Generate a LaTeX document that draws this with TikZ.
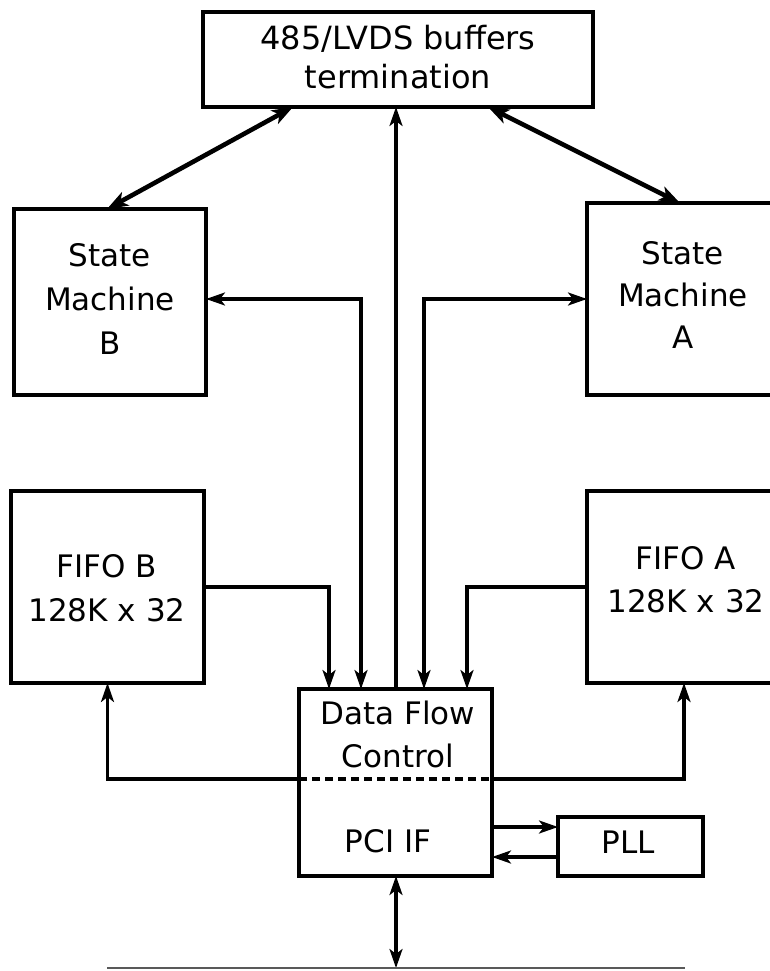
\documentclass[tikz,border=0pt]{standalone}
\usepackage{fontspec}
\setmainfont{DejaVu Sans}
\usetikzlibrary{arrows.meta}
\tikzset{
  tipa/.tip={Stealth[length=19pt,width=13pt,inset=5pt]},
  tipb/.tip={Stealth[length=21pt,width=15pt,inset=5.5pt]},
}
\begin{document}
\begin{tikzpicture}[x=1pt,y=-1pt,
  box/.style={draw, line width=3.6pt, rectangle, inner sep=0pt, outer sep=0pt},
  lbl/.style={align=center, inner sep=0pt, font=\fontsize{31}{44}\selectfont},
  one/.style={line width=3.2pt, -{tipa}},
  two/.style={line width=3.2pt, {tipa}-{tipa}},
  twothick/.style={line width=4.6pt, {tipb}-{tipb}},
]
\useasboundingbox (0,0) rectangle (770,971);
\clip (0,0) rectangle (770,971);

% boxes
\node[box, minimum width=390pt, minimum height=95pt] (top) at (398,59.5) {};
\node[box, minimum width=192pt, minimum height=186pt] (smb) at (110,302) {};
\node[box, minimum width=192pt, minimum height=192pt] (sma) at (683,299) {};
\node[box, minimum width=193pt, minimum height=192pt] (fifob) at (107.5,587) {};
\node[box, minimum width=192pt, minimum height=192pt] (fifoa) at (683,587) {};
\node[box, minimum width=193pt, minimum height=187pt] (dfc) at (395.5,782.5) {};
\node[box, minimum width=145pt, minimum height=59pt] (pll) at (630.5,846.5) {};

% texts
\node[lbl, font=\fontsize{32}{39}\selectfont] (ttop) at (398,57.5) {485/LVDS buffers\\termination};
\node[lbl] (tsmb) at (110,299) {State\\Machine\\B};
\node[lbl, font=\fontsize{31}{42}\selectfont] (tsma) at (683,295) {State\\Machine\\A};
\node[lbl] (tfifob) at (107,588.5) {FIFO B\\128K x 32};
\node[lbl, font=\fontsize{31}{43}\selectfont] (tfifoa) at (686,580) {FIFO A\\128K x 32};
\node[lbl, font=\fontsize{31}{43}\selectfont] (tdfc) at (398,734) {Data Flow\\Control};
\node[lbl] (tpci) at (388,841) {PCI IF};
\node[lbl] (tpll) at (628,842) {PLL};

% helper coordinates
\coordinate (busL) at (107,968);
\coordinate (busR) at (685,968);
\coordinate (p1) at ([yshift=19.5pt]pll.west);
\coordinate (p2) at ([yshift=-10.5pt]pll.west);
\coordinate (dl) at ([yshift=3.5pt]dfc.west);
\coordinate (dr) at ([yshift=3.5pt]dfc.east);

% diagonal links
\draw[twothick] ([xshift=-105pt]top.south) -- ([xshift=-3pt]smb.north);
\draw[twothick] ([xshift=90pt]top.south) -- ([xshift=-3pt]sma.north);

% vertical central
\draw[one] ([xshift=0.5pt]dfc.north) -- ([xshift=0.5pt]dfc.north |- top.south);

% state machines
\draw[two] ([xshift=62pt]dfc.north west) |- ([yshift=3pt]smb.east);
\draw[two] ([xshift=125pt]dfc.north west) |- (sma.west);

% FIFOs into DFC
\draw[one] (fifob.east) -| ([xshift=30pt]dfc.north west);
\draw[one] (fifoa.west) -| ([xshift=168pt]dfc.north west);

% DFC back to FIFOs
\draw[one] (dl) -| (fifob.south);
\draw[one] (dr) -| ([xshift=1pt]fifoa.south);
\draw[line width=3.2pt, dash pattern=on 8pt off 5pt] (dl) -- (dr);

% PLL
\draw[one] (p1 -| dfc.east) -- (p1);
\draw[one] (p2) -- (p2 -| dfc.east);

% PCI bus
\draw[two] ([xshift=0.5pt]dfc.south) -- ([xshift=0.5pt]dfc.south |- busL);
\draw[line width=2.2pt, black!65] (busL) -- (busR);
\end{tikzpicture}
\end{document}
